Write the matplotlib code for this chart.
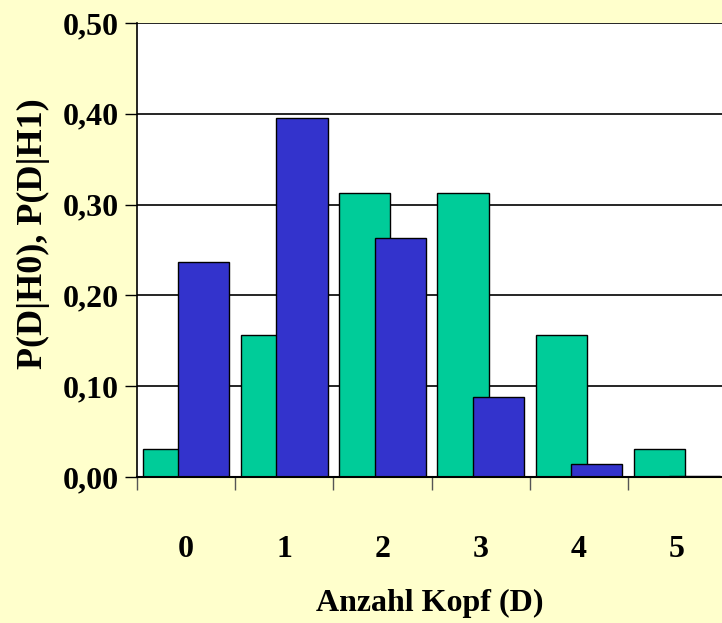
import matplotlib

matplotlib.use("Agg")
import matplotlib.pyplot as plt
import numpy as np

# Anzahl Kopf bei 5 Wuerfen: H0 (p=0.5) und H1 (p=0.25)
categories = ["0", "1", "2", "3", "4", "5"]
p_h0 = [0.03125, 0.15625, 0.3125, 0.3125, 0.15625, 0.03125]
p_h1 = [0.2373, 0.3955, 0.2637, 0.0879, 0.0146, 0.0010]
y_ticks = [0.0, 0.1, 0.2, 0.3, 0.4, 0.5]
y_tick_labels = ["0,00", "0,10", "0,20", "0,30", "0,40", "0,50"]

bg = "#FFFFCC"
green = "#00CC99"
blue = "#3333CC"
font = {"family": "Liberation Serif", "weight": "bold"}

fig = plt.figure(figsize=(7.22, 6.23), dpi=100, facecolor=bg)
ax = fig.add_axes([137 / 722, 146 / 623, 585 / 722, 454 / 623])
ax.set_facecolor("white")

x = np.arange(len(categories))
width = 0.52
ax.bar(x - 0.18, p_h0, width, color=green, edgecolor="black", linewidth=1.0, zorder=3)
ax.bar(x + 0.18, p_h1, width, color=blue, edgecolor="black", linewidth=1.0, zorder=4)

ax.set_ylim(0, 0.5)
ax.set_xlim(-0.5, -0.5 + 585 / 98.2)
ax.set_yticks(y_ticks)
ax.set_yticklabels(y_tick_labels, fontdict=font, fontsize=23)
for t in y_ticks[1:]:
    ax.axhline(t, color="black", linewidth=1.2, zorder=2)

ax.set_xticks(x)
ax.set_xticklabels(categories, fontdict=font, fontsize=23)
ax.set_xticks(np.arange(len(categories)) - 0.5, minor=True)
ax.tick_params(axis="x", which="major", length=0, pad=42)
ax.tick_params(axis="x", which="minor", length=9, width=1.0, color="#555555", direction="out")
ax.tick_params(axis="y", length=9, width=1.0, direction="out", pad=4)

for side in ["top", "right"]:
    ax.spines[side].set_visible(False)
ax.spines["left"].set_linewidth(1.2)
ax.spines["bottom"].set_linewidth(1.5)
ax.spines["bottom"].set_zorder(5)

fig.text(430 / 722, 1 - 603 / 623, "Anzahl Kopf (D)", ha="center", va="center", fontsize=23, **font)
fig.text(33 / 722, 1 - 234 / 623, "P(D|H0), P(D|H1)", ha="center", va="center",
         rotation=90, fontsize=26, **font)

fig.savefig("out.png", dpi=100, facecolor=bg)
